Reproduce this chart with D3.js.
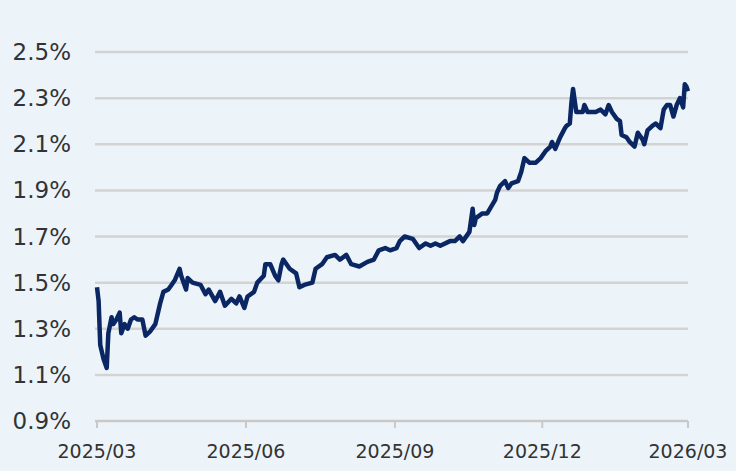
<!DOCTYPE html>
<html><head><meta charset="utf-8">
<script src="https://cdn.jsdelivr.net/npm/d3@7"></script>
<style>body{margin:0;background:#ecf4fa;}svg{display:block;}</style>
</head><body><svg id="c" width="736" height="471"></svg>
<script>
const startDate = "2025-03-01";
const dayOffsets = [0,1,2,4,6,7,9,10,12,14,15,17,19,21,23,25,28,30,33,36,39,41,44,46,48,51,52,55,56,59,64,67,69,73,76,79,83,86,88,91,93,97,99,103,104,107,110,112,114,115,119,123,125,128,133,135,139,142,147,150,154,157,162,167,171,174,178,181,185,187,190,195,198,199,203,206,209,212,218,221,224,226,230,232,233,234,238,241,246,247,249,252,254,256,260,262,264,267,271,274,277,280,281,283,286,289,290,292,293,294,296,300,301,303,308,311,314,316,318,321,323,324,327,329,332,334,337,338,340,343,345,348,350,352,354,356,358,360,362,363,364,365];
const yields = [1.48,1.42,1.23,1.17,1.13,1.28,1.35,1.32,1.34,1.37,1.28,1.32,1.30,1.34,1.35,1.34,1.34,1.27,1.29,1.32,1.41,1.46,1.47,1.49,1.51,1.56,1.53,1.47,1.52,1.50,1.49,1.45,1.47,1.42,1.46,1.40,1.43,1.41,1.44,1.39,1.44,1.46,1.50,1.53,1.58,1.58,1.53,1.51,1.58,1.60,1.56,1.54,1.48,1.49,1.50,1.56,1.58,1.61,1.62,1.60,1.62,1.58,1.57,1.59,1.60,1.64,1.65,1.64,1.65,1.68,1.70,1.69,1.66,1.65,1.67,1.66,1.67,1.66,1.68,1.68,1.70,1.68,1.72,1.82,1.75,1.78,1.80,1.80,1.86,1.89,1.92,1.94,1.91,1.93,1.94,1.98,2.04,2.02,2.02,2.04,2.07,2.09,2.11,2.08,2.13,2.17,2.18,2.19,2.28,2.34,2.24,2.24,2.27,2.24,2.24,2.25,2.23,2.27,2.24,2.21,2.20,2.14,2.13,2.11,2.09,2.15,2.12,2.10,2.16,2.18,2.19,2.17,2.25,2.27,2.27,2.22,2.27,2.30,2.26,2.36,2.35,2.33];
const yTicks = [0.9,1.1,1.3,1.5,1.7,1.9,2.1,2.3,2.5];
const xTickDates = ["2025-03-01","2025-06-01","2025-09-01","2025-12-01","2026-03-01"];

const svg = d3.select("#c");
const base = d3.isoParse(startDate + "T00:00:00");
const data = dayOffsets.map((d,i)=>({date:d3.timeDay.offset(base,d), v:yields[i]}));
const x = d3.scaleTime().domain([base, d3.isoParse("2026-03-01T00:00:00")]).range([97,688]);
const y = d3.scaleLinear().domain([0.9,2.5]).range([421,52]);

svg.append("rect").attr("width",736).attr("height",471).attr("fill","#ecf4fa");
const g = svg.append("g");
g.selectAll("line.grid").data(yTicks).join("line")
  .attr("x1",95).attr("x2",688).attr("y1",d=>y(d)).attr("y2",d=>y(d))
  .attr("stroke",d=>d===0.9?"#c8c8c8":"#d3d3d3").attr("stroke-width",2.5);
g.selectAll("text.yl").data(yTicks).join("text")
  .attr("x",71).attr("y",d=>y(d)+8).attr("text-anchor","end")
  .attr("font-family","DejaVu Sans, Verdana, sans-serif").attr("font-size",23).attr("fill","#333")
  .text(d=>d.toFixed(1)+"%");
const xt = xTickDates.map(s=>d3.isoParse(s+"T00:00:00"));
g.selectAll("line.xt").data(xt).join("line")
  .attr("x1",d=>x(d)).attr("x2",d=>x(d)).attr("y1",421).attr("y2",428)
  .attr("stroke","#c8c8c8").attr("stroke-width",2);
g.selectAll("text.xl").data(xt).join("text")
  .attr("x",d=>x(d)).attr("y",458).attr("text-anchor","middle")
  .attr("font-family","DejaVu Sans, Verdana, sans-serif").attr("font-size",19).attr("fill","#333")
  .text(d=>d3.timeFormat("%Y/%m")(d));
g.append("path").datum(data)
  .attr("d", d3.line().x(d=>x(d.date)).y(d=>y(d.v)))
  .attr("fill","none").attr("stroke","#0b2763").attr("stroke-width",4.5).attr("stroke-linejoin","round");
</script></body></html>
